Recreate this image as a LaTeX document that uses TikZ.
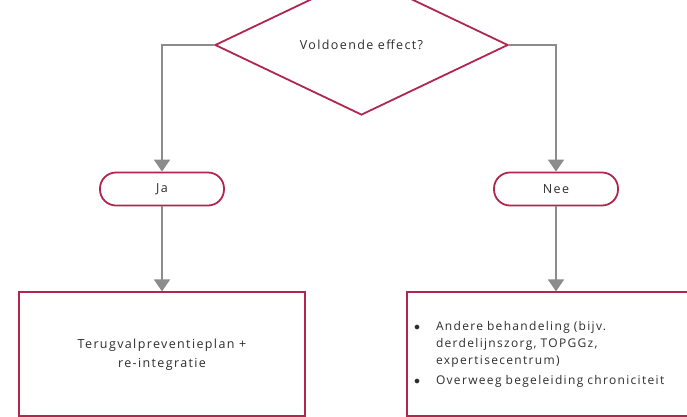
\documentclass[tikz,border=0pt]{standalone}
\usepackage{fontspec}
\setmainfont[LetterSpace=11]{Open Sans}
\usepackage{tikz}
\usetikzlibrary{arrows.meta,shapes.geometric,positioning}
\definecolor{rood}{RGB}{176,38,78}
\definecolor{pijl}{RGB}{140,140,140}
\definecolor{tekst}{RGB}{45,45,45}
\newcommand{\itemdot}{\makebox[6pt][l]{$\bullet$}}

\begin{document}
\begin{tikzpicture}[x=1pt, y=-1pt,
  txt/.style={text=tekst, font=\fontsize{12.5}{19}\selectfont},
  decision/.style={draw=rood, line width=1.8pt, diamond, aspect=2.09,
    inner sep=0pt, minimum width=293pt, minimum height=140pt, txt},
  pill/.style={draw=rood, line width=1.8pt, rounded corners=16pt,
    minimum width=124pt, minimum height=33pt, txt},
  box/.style={draw=rood, line width=1.8pt, minimum height=124pt, txt},
  flow/.style={draw=pijl, line width=1.8pt,
    -{Triangle[width=16pt,length=12pt]}}
]
  \useasboundingbox (0,0) rectangle (687,416);
  \node[decision] (effect) at (361.5,45) {Voldoende effect?};
  \node[pill] (ja) at (162,189) {Ja};
  \node[pill] (nee) at (556,189) {Nee};
  \node[box, minimum width=286pt, below=85pt of ja, align=center] (plan)
    {Terugvalpreventieplan +\\re-integratie};
  \node[box, text width=284pt, inner xsep=7pt, below=85pt of nee, align=left,
    font=\fontsize{12}{17}\selectfont] (other)
    {\begin{tabular}{@{}l@{\hspace{16pt}}l@{}}
      \itemdot & Andere behandeling (bijv.\\
      & derdelijnszorg, TOPGGz,\\
      & expertisecentrum)\\[3pt]
      \itemdot & Overweeg begeleiding chroniciteit
    \end{tabular}};
  \draw[flow] (effect.west) -| (ja.north);
  \draw[flow] (effect.east) -| (nee.north);
  \draw[flow] (ja) -- (plan);
  \draw[flow] (nee) -- (other);
\end{tikzpicture}
\end{document}
